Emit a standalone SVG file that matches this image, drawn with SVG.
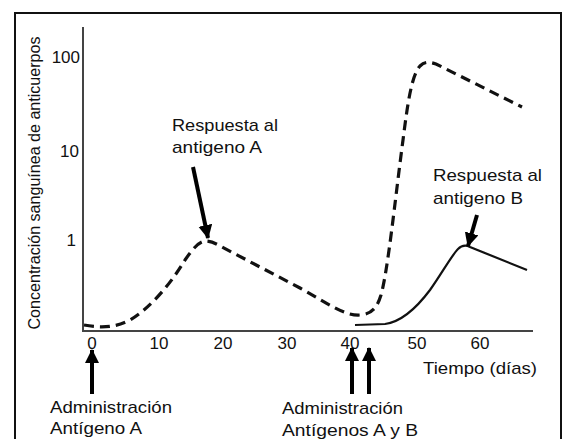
<svg xmlns="http://www.w3.org/2000/svg" width="565" height="439" viewBox="0 0 565 439">
<style>
text{font-family:"Liberation Sans",Arial,sans-serif;font-size:17px;fill:#111}
.ax{stroke:#444;stroke-width:2;fill:none}
.dash{stroke:#111;stroke-width:3.2;fill:none;stroke-dasharray:10 6}
.solid{stroke:#111;stroke-width:2.2;fill:none}
.arr{stroke:#000;stroke-width:4;fill:none}
</style>
<defs>
<marker id="ah" markerUnits="userSpaceOnUse" markerWidth="16" markerHeight="16" refX="13" refY="7" orient="auto">
<path d="M0,0 L14,7 L0,14 Z" fill="#000"/>
</marker>
</defs>
<rect x="0" y="0" width="565" height="439" fill="#fff"/>
<rect x="15" y="13" width="546" height="440" fill="none" stroke="#111" stroke-width="2"/>
<g id="axes">
<path class="ax" d="M83,27 L83,331 L533,331"/>
<text x="80" y="63" text-anchor="end">100</text>
<text x="79" y="157" text-anchor="end">10</text>
<text x="76" y="246" text-anchor="end">1</text>
<text x="92" y="349" text-anchor="middle">0</text>
<text x="159" y="349" text-anchor="middle">10</text>
<text x="223" y="349" text-anchor="middle">20</text>
<text x="287" y="349" text-anchor="middle">30</text>
<text x="350" y="349" text-anchor="middle">40</text>
<text x="417" y="349" text-anchor="middle">50</text>
<text x="480" y="349" text-anchor="middle">60</text>
<text x="423" y="374" textLength="114" lengthAdjust="spacingAndGlyphs">Tiempo (días)</text>
<text transform="translate(40,183) rotate(-90)" text-anchor="middle" font-size="16" textLength="293" lengthAdjust="spacingAndGlyphs">Concentración sanguínea de anticuerpos</text>
</g>
<g id="curves">
<path id="curveA" class="dash" d="M84,325 C100,328 115,328 130,320 C150,308 170,285 185,260 C192,250 198,242 205,241 C210,241 215,243 220,246 L300,288 C330,305 345,316 360,315 C372,314 377,308 381,295 C388,270 395,200 403,140 C408,100 412,75 420,66 C425,61 430,62 436,64 L522,107"/>
<path id="curveB" class="solid" d="M355,325 L385,324 C400,322 415,310 430,290 C442,273 452,255 458,249 C462,245 466,245 470,247 L527,270"/>
</g>
<g id="connectors">
<line class="arr" x1="193" y1="167" x2="208" y2="238" marker-end="url(#ah)"/>
<line class="arr" x1="477" y1="215" x2="468" y2="246" marker-end="url(#ah)"/>
<line class="arr" x1="92" y1="394" x2="92" y2="350" marker-end="url(#ah)"/>
<line class="arr" x1="352" y1="394" x2="352" y2="348" marker-end="url(#ah)"/>
<line class="arr" x1="369" y1="394" x2="369" y2="348" marker-end="url(#ah)"/>
</g>
<g id="labelRespA">
<text x="172" y="131" textLength="106" lengthAdjust="spacingAndGlyphs">Respuesta al</text>
<text x="172" y="153" textLength="90" lengthAdjust="spacingAndGlyphs">antigeno A</text>
</g>
<g id="labelRespB">
<text x="433" y="181" textLength="109" lengthAdjust="spacingAndGlyphs">Respuesta al</text>
<text x="433" y="204" textLength="90" lengthAdjust="spacingAndGlyphs">antigeno B</text>
</g>
<g id="labelAdmA">
<text x="50" y="413" textLength="122" lengthAdjust="spacingAndGlyphs">Administración</text>
<text x="50" y="434" textLength="92" lengthAdjust="spacingAndGlyphs">Antígeno A</text>
</g>
<g id="labelAdmAB">
<text x="282" y="414" textLength="121" lengthAdjust="spacingAndGlyphs">Administración</text>
<text x="282" y="436" textLength="136" lengthAdjust="spacingAndGlyphs">Antígenos A y B</text>
</g>
</svg>
